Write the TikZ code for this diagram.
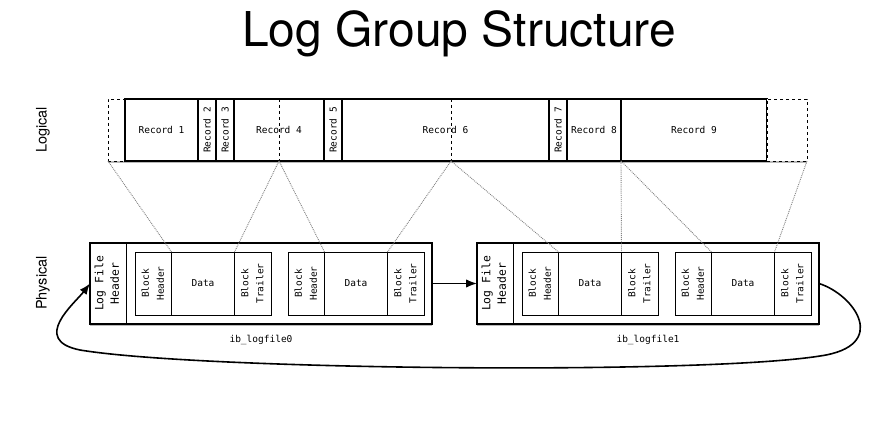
\documentclass[tikz,border=0pt]{standalone}
\usepackage{fontspec}
\usepackage{graphicx}
\setmainfont{TeX Gyre Heros}
\newfontfamily\monofont{DejaVu Sans Mono}
\usetikzlibrary{positioning,shadows,arrows.meta}

% two rotated lines inside a cell
\newcommand\vlab[2]{\rotatebox{90}{\begin{tabular}{@{}c@{}}#1\\#2\end{tabular}}}

\tikzset{
  mono/.style={font=\fontsize{9.5}{15}\selectfont\monofont},
  shade/.style={drop shadow={shadow xshift=0.4pt,shadow yshift=-1.8pt,fill=black!55}},
  rec/.style={draw,fill=white,line width=1.6pt,minimum height=62pt,inner sep=0pt,outer sep=0pt,mono,shade},
  pad/.style={rec,dashed,line width=0.8pt},
  cell/.style={draw,line width=0.8pt,minimum height=63pt,inner sep=0pt,outer sep=0pt,mono},
  hdrcell/.style={cell,minimum width=36pt,minimum height=81pt,font=\fontsize{11.4}{15.6}\selectfont\monofont},
  logfile/.style={draw,fill=white,line width=1.1pt,minimum width=342pt,minimum height=81pt,inner sep=0pt,outer sep=0pt,shade},
  map/.style={densely dotted,black!50,line width=0.9pt},
  flow/.style={-{Latex[length=11pt,width=8.5pt]},line width=1.6pt},
  side/.style={rotate=90,font=\fontsize{14.5}{16}\selectfont}
}

\begin{document}
\begin{tikzpicture}[x=1pt,y=-1pt]
\useasboundingbox (0,0) rectangle (885,435);

\node[font=\fontsize{48}{50}\selectfont,anchor=base] (title) at (459,47) {Log Group Structure};
\node[side] (logical) at (43,130) {Logical};
\node[side] (physical) at (43,283) {Physical};

% logical view
\node[pad,minimum width=17pt,anchor=west] (lpad) at (108,130) {};
\node[rec,minimum width=73pt,right=0pt of lpad] (r1) {Record 1};
\node[rec,minimum width=18pt,right=0pt of r1] (r2) {\rotatebox{90}{Record 2}};
\node[rec,minimum width=18pt,right=0pt of r2] (r3) {\rotatebox{90}{Record 3}};
\node[rec,minimum width=90pt,right=0pt of r3] (r4) {Record 4};
\node[rec,minimum width=18pt,right=0pt of r4] (r5) {\rotatebox{90}{Record 5}};
\node[rec,minimum width=207pt,right=0pt of r5] (r6) {Record 6};
\node[rec,minimum width=18pt,right=0pt of r6] (r7) {\rotatebox{90}{Record 7}};
\node[rec,minimum width=54pt,right=0pt of r7] (r8) {Record 8};
\node[rec,minimum width=146pt,right=0pt of r8] (r9) {Record 9};
\node[pad,minimum width=40pt,right=0pt of r9] (rpad) {};

\coordinate (s6) at (451,161);
\draw[dashed,line width=0.8pt] (r4.north) -- (r4.south);
\draw[dashed,line width=0.8pt] (s6 |- r6.north) -- (s6);

% physical view
\foreach \f/\x in {0/90,1/477} {
  \node[logfile,anchor=west] (f\f) at (\x,283.5) {};
  \node[hdrcell,anchor=west] (hdr\f) at (f\f.west) {\vlab{Log File}{Header}};
  \node[cell,minimum width=36.5pt,right=9pt of hdr\f] (bh\f1) {\vlab{Block}{Header}};
  \node[cell,minimum width=63pt,right=0pt of bh\f1] (bd\f1) {Data};
  \node[cell,minimum width=36.5pt,right=0pt of bd\f1] (bt\f1) {\vlab{Block}{Trailer}};
  \node[cell,minimum width=36.5pt,right=17pt of bt\f1] (bh\f2) {\vlab{Block}{Header}};
  \node[cell,minimum width=63pt,right=0pt of bh\f2] (bd\f2) {Data};
  \node[cell,minimum width=36.5pt,right=0pt of bd\f2] (bt\f2) {\vlab{Block}{Trailer}};
  \node[mono,below=8pt of f\f] (name\f) {ib\_logfile\f};
}

% how records land in blocks
\draw[map] (lpad.south west) -- (bh01.north east);
\draw[map] (r4.south) -- (bt01.north west);
\draw[map] (r4.south) -- (bh02.north east);
\draw[map] (s6) -- (bt02.north west);
\draw[map] (s6) -- (bh11.north east);
\draw[map] (r8.south east) -- (bt11.north west);
\draw[map] (r8.south east) -- (bh12.north east);
\draw[map] (rpad.south east) -- (bt12.north west);

\draw[flow] (f0.east) -- (f1.west);
\draw[flow] (f1.east) .. controls (855,295) and (890,346) .. (820,356)
  .. controls (700,375) and (200,370) .. (80,350)
  .. controls (30,340) and (75,303) .. (f0.west);
\end{tikzpicture}
\end{document}
